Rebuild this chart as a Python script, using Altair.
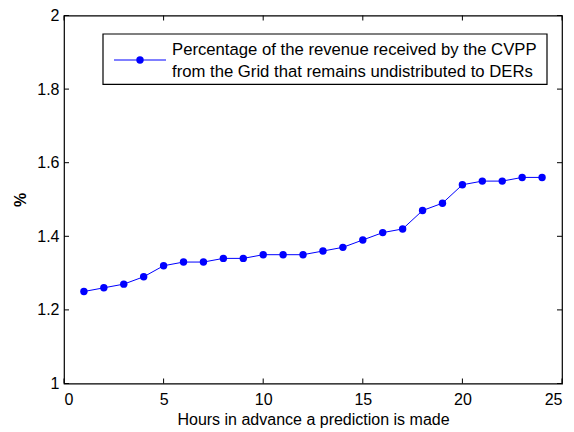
import altair as alt
import pandas as pd

hours = list(range(1, 25))
pct = [1.25, 1.26, 1.27, 1.29, 1.32, 1.33, 1.33, 1.34, 1.34, 1.35, 1.35, 1.35,
       1.36, 1.37, 1.39, 1.41, 1.42, 1.47, 1.49, 1.54, 1.55, 1.55, 1.56, 1.56]
x_ticks = [0, 5, 10, 15, 20, 25]
y_ticks = [1.0, 1.2, 1.4, 1.6, 1.8, 2.0]
legend_lines = ["Percentage of the revenue received by the CVPP",
                "from the Grid that remains undistributed to DERs"]

W, H = 498, 368
FONT = "Liberation Sans"
BLUE = "#0000FF"
FS = 16.7
AFS = 16

df = pd.DataFrame({"h": hours, "p": pct})
xt = pd.DataFrame({"v": x_ticks})
yt = pd.DataFrame({"v": y_ticks})

xs = alt.Scale(domain=[0, 25], nice=False)
ys = alt.Scale(domain=[1, 2], nice=False)

xaxis = alt.Axis(values=x_ticks, title="Hours in advance a prediction is made",
                 ticks=False, domain=False, grid=False, labelPadding=8,
                 titlePadding=4, format="d",
                 labelFont=FONT, titleFont=FONT, labelFontSize=AFS, titleFontSize=AFS,
                 labelColor="black", titleColor="black", titleFontWeight="normal")
yaxis = alt.Axis(values=y_ticks, title="%", ticks=False, domain=False, grid=False,
                 labelPadding=5, titlePadding=8, labelExpr="format(datum.value, '~g')",
                 labelFont=FONT, titleFont=FONT, labelFontSize=AFS, titleFontSize=AFS,
                 labelColor="black", titleColor="black", titleFontWeight="bold")

line = alt.Chart(df).mark_line(color=BLUE, strokeWidth=1).encode(
    x=alt.X("h:Q", scale=xs, axis=xaxis),
    y=alt.Y("p:Q", scale=ys, axis=yaxis),
)
pts = alt.Chart(df).mark_point(color=BLUE, filled=True, opacity=1, size=55).encode(
    x=alt.X("h:Q", scale=xs), y=alt.Y("p:Q", scale=ys))

tl = 5
tick_bottom = alt.Chart(xt).mark_rule(color="black", strokeWidth=1).encode(
    x=alt.X("v:Q", scale=xs), y=alt.value(H), y2=alt.value(H - tl))
tick_top = alt.Chart(xt).mark_rule(color="black", strokeWidth=1).encode(
    x=alt.X("v:Q", scale=xs), y=alt.value(0), y2=alt.value(tl))
tick_left = alt.Chart(yt).mark_rule(color="black", strokeWidth=1).encode(
    y=alt.Y("v:Q", scale=ys), x=alt.value(0), x2=alt.value(tl))
tick_right = alt.Chart(yt).mark_rule(color="black", strokeWidth=1).encode(
    y=alt.Y("v:Q", scale=ys), x=alt.value(W), x2=alt.value(W - tl))

one = pd.DataFrame({"a": [0]})
leg_box = alt.Chart(one).mark_rect(fill="white", stroke="black", strokeWidth=1.2).encode(
    x=alt.value(39), x2=alt.value(483), y=alt.value(18.5), y2=alt.value(68.8))
leg_line = alt.Chart(one).mark_rule(color=BLUE, strokeWidth=1).encode(
    x=alt.value(50), x2=alt.value(102), y=alt.value(44.5))
leg_pt = alt.Chart(one).mark_point(color=BLUE, filled=True, opacity=1, size=55).encode(
    x=alt.value(76), y=alt.value(44.5))
leg_t1 = alt.Chart(one).mark_text(align="left", baseline="middle", font=FONT,
                                   fontSize=FS, color="black").encode(
    x=alt.value(108), y=alt.value(34.5), text=alt.value(legend_lines[0]))
leg_t2 = alt.Chart(one).mark_text(align="left", baseline="middle", font=FONT,
                                   fontSize=FS, color="black").encode(
    x=alt.value(108), y=alt.value(56.5), text=alt.value(legend_lines[1]))

chart = alt.layer(
    line, pts, tick_bottom, tick_top, tick_left, tick_right,
    leg_box, leg_line, leg_pt, leg_t1, leg_t2
).properties(
    width=W, height=H,
    autosize=alt.AutoSizeParams(type="none"),
    padding={"left": 56, "top": 7.5, "right": 4, "bottom": 48},
    background="white",
).configure_view(
    stroke="black", strokeWidth=1.2
)

chart.save("out.html", embed_options={"renderer": "svg", "actions": False})
